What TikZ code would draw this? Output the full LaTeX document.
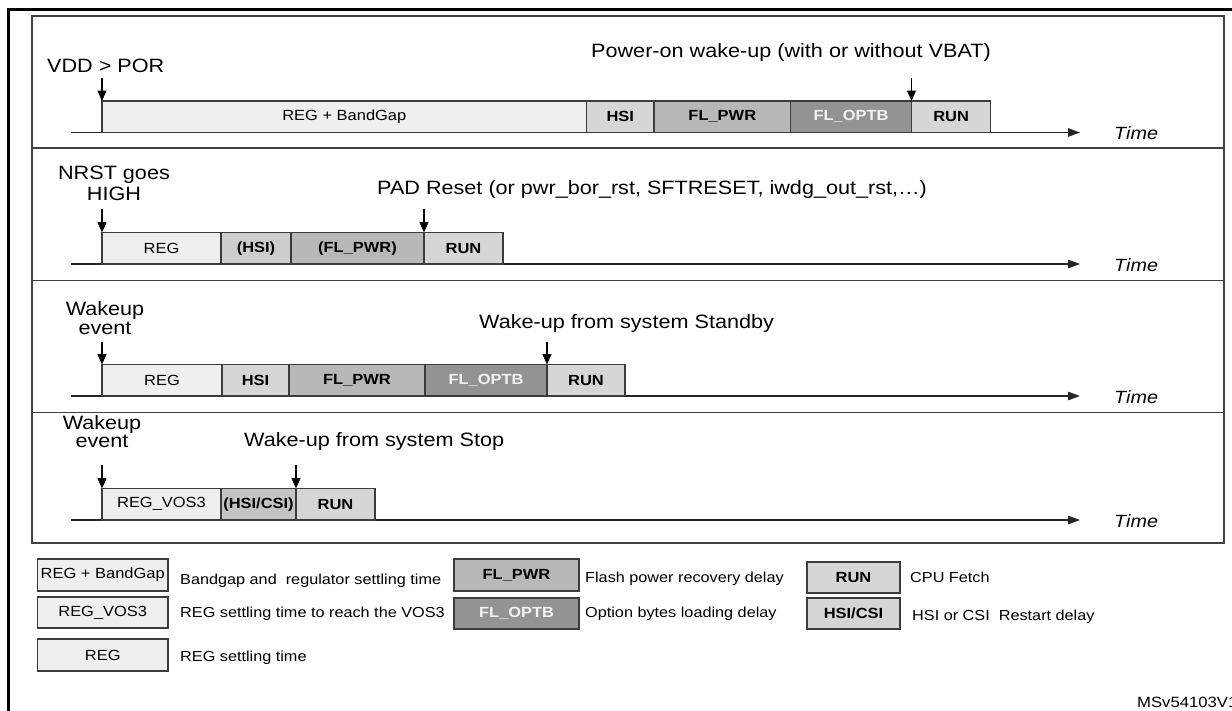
\documentclass[tikz,border=0pt]{standalone}
\usepackage{fontspec}
\setmainfont{Liberation Sans}[FakeStretch=1.12]
\usetikzlibrary{arrows.meta}
\definecolor{regfill}{HTML}{EFEFEF}
\definecolor{hsifill}{HTML}{D6D6D6}
\definecolor{hsiparfill}{HTML}{CDCDCD}
\definecolor{csiparfill}{HTML}{C4C4C4}
\definecolor{pwrfill}{HTML}{B8B8B8}
\definecolor{optbfill}{HTML}{939393}
\definecolor{runfill}{HTML}{D6D6D6}
\definecolor{boxline}{HTML}{3C3C3C}
\definecolor{frameline}{HTML}{404040}
\definecolor{optbtext}{HTML}{F2F2F2}
\newcommand\fBig{\fontsize{19.3}{19}\selectfont}
\newcommand\fBox{\fontsize{14.7}{15}\selectfont}
\newcommand\fDesc{\fontsize{14.5}{15}\selectfont}
\newcommand\fTime{\fontsize{17.7}{18}\selectfont\itshape}
\newcommand\fId{\fontsize{14.9}{15}\selectfont}
\begin{document}
\begin{tikzpicture}[x=1pt,y=-1pt,
  box/.style={draw=boxline, line width=1.1pt, inner sep=0pt, outer sep=0pt, minimum height=31.5pt, font=\fBox, text=black},
  bbox/.style={box, font=\fBox\bfseries},
  lbl/.style={anchor=base west, inner sep=0pt, font=\fBig},
  lblc/.style={anchor=base, inner sep=0pt, font=\fBig},
  desc/.style={anchor=base west, inner sep=0pt, font=\fDesc},
  timel/.style={anchor=base west, inner sep=0pt, font=\fTime},
  darr/.style={draw=black, line width=1.1pt, -{Triangle[length=10.5pt,width=9pt]}},
  tline/.style={draw=black!85, line width=1.2pt, -{Triangle[length=12pt,width=8.5pt]}}
]
\useasboundingbox (0,0) rectangle (1232,710);
\fill[white] (0,0) rectangle (1232,710);
% outer frame
\draw[line width=3pt, black] (8,720) -- (8,9) -- (1240,9);
% inner frame and dividers
\draw[frameline, line width=1.3pt] (32,16) rectangle (1224,543);
\draw[frameline, line width=1.3pt] (32,148) -- (1224,148);
\draw[frameline, line width=1.3pt] (32,280.5) -- (1224,280.5);
\draw[frameline, line width=1.3pt] (32,412.5) -- (1224,412.5);

% ---------- Panel 1 ----------
\coordinate (t1s) at (71,132.5);
\coordinate (t1e) at (1080,132.5);
\draw[tline] (t1s) -- (t1e);
\node[box, fill=regfill, minimum width=484.6pt] (b1reg) at (344.3,116.75) {REG + BandGap};
\node[bbox, fill=hsifill, minimum width=67.4pt] (b1hsi) at (620.3,116.75) {HSI};
\node[bbox, fill=pwrfill, minimum width=136.6pt] (b1pwr) at (722.3,116.75) {FL\_PWR};
\node[bbox, fill=optbfill, text=optbtext, minimum width=120.9pt] (b1optb) at (851.05,116.75) {FL\_OPTB};
\node[bbox, fill=runfill, minimum width=79.2pt] (b1run) at (951.1,116.75) {RUN};
\node[lbl] (e1a) at (47,72) {VDD > POR};
\node[lbl] (e1b) at (591,57) {Power-on wake-up (with or without VBAT)};
\coordinate (a1s) at (102,78);
\coordinate (a1t) at (911.5,78);
\draw[darr] (a1s) -- (b1reg.north west);
\draw[darr] (a1t) -- (b1run.north west);
\node[timel] (tm1) at (1114,139.5) {Time};

% ---------- Panel 2 ----------
\coordinate (t2s) at (71,264);
\coordinate (t2e) at (1080,264);
\draw[tline] (t2s) -- (t2e);
\node[box, fill=regfill, minimum width=119pt] (b2reg) at (161.5,248.25) {REG};
\node[bbox, fill=hsiparfill, minimum width=70pt] (b2hsi) at (256,248.25) {(HSI)};
\node[bbox, fill=pwrfill, minimum width=133pt] (b2pwr) at (357.5,248.25) {(FL\_PWR)};
\node[bbox, fill=runfill, minimum width=79pt] (b2run) at (463.5,248.25) {RUN};
\node[lblc] (e2a) at (114,179) {NRST goes};
\node[lblc] (e2b) at (114,200) {HIGH};
\node[lbl] (e2c) at (377,194) {PAD Reset (or pwr\_bor\_rst, SFTRESET, iwdg\_out\_rst,…)};
\coordinate (a2s) at (102,208.5);
\coordinate (a2t) at (424,208.5);
\draw[darr] (a2s) -- (b2reg.north west);
\draw[darr] (a2t) -- (b2run.north west);
\node[timel] (tm2) at (1114,271) {Time};

% ---------- Panel 3 ----------
\coordinate (t3s) at (71,396);
\coordinate (t3e) at (1080,396);
\draw[tline] (t3s) -- (t3e);
\node[box, fill=regfill, minimum width=120pt] (b3reg) at (162,380.25) {REG};
\node[bbox, fill=hsifill, minimum width=67pt] (b3hsi) at (255.5,380.25) {HSI};
\node[bbox, fill=pwrfill, minimum width=136pt] (b3pwr) at (357,380.25) {FL\_PWR};
\node[bbox, fill=optbfill, text=optbtext, minimum width=122pt] (b3optb) at (486,380.25) {FL\_OPTB};
\node[bbox, fill=runfill, minimum width=78pt] (b3run) at (586,380.25) {RUN};
\node[lblc] (e3a) at (105,315.5) {Wakeup};
\node[lblc] (e3b) at (105,334) {event};
\node[lbl] (e3c) at (479,328) {Wake-up from system Standby};
\coordinate (a3s) at (102,341.5);
\coordinate (a3t) at (547,341.5);
\draw[darr] (a3s) -- (b3reg.north west);
\draw[darr] (a3t) -- (b3run.north west);
\node[timel] (tm3) at (1114,403) {Time};

% ---------- Panel 4 ----------
\coordinate (t4s) at (71,520);
\coordinate (t4e) at (1080,520);
\draw[tline] (t4s) -- (t4e);
\node[box, fill=regfill, minimum width=119pt] (b4reg) at (161.5,504.25) {REG\_VOS3};
\node[bbox, fill=csiparfill, minimum width=75pt] (b4hsi) at (258.5,504.25) {(HSI/CSI)};
\node[bbox, fill=runfill, minimum width=79pt] (b4run) at (335.5,504.25) {RUN};
\node[lblc] (e4a) at (102,429) {Wakeup};
\node[lblc] (e4b) at (102,447.5) {event};
\node[lbl] (e4c) at (244,446) {Wake-up from system Stop};
\coordinate (a4s) at (102,465);
\coordinate (a4t) at (296,465);
\draw[darr] (a4s) -- (b4reg.north west);
\draw[darr] (a4t) -- (b4run.north west);
\node[timel] (tm4) at (1114,527) {Time};

% ---------- Legend ----------
\node[box, fill=regfill, minimum width=130.5pt, minimum height=32pt] (l1) at (102.75,575) {REG + BandGap};
\node[box, fill=regfill, minimum width=130.5pt, minimum height=31pt] (l2) at (102.75,612.5) {REG\_VOS3};
\node[box, fill=regfill, minimum width=130.5pt, minimum height=32pt] (l3) at (102.75,655) {REG};
\node[bbox, fill=pwrfill, minimum width=125pt, minimum height=32pt] (l4) at (516.5,575) {FL\_PWR};
\node[bbox, fill=optbfill, text=optbtext, minimum width=125pt, minimum height=31pt] (l5) at (516.5,613.5) {FL\_OPTB};
\node[bbox, fill=runfill, minimum width=93pt, minimum height=31pt] (l6) at (853.5,577.5) {RUN};
\node[bbox, fill=runfill, minimum width=93pt, minimum height=31pt] (l7) at (853.5,613.5) {HSI/CSI};
\node[desc] (d1) at (180,584) {Bandgap and\ \ regulator settling time};
\node[desc] (d2) at (180,617) {REG settling time to reach the VOS3};
\node[desc] (d3) at (180,661.5) {REG settling time};
\node[desc] (d4) at (585,582.5) {Flash power recovery delay};
\node[desc] (d5) at (585,617) {Option bytes loading delay};
\node[desc] (d6) at (910,582.5) {CPU Fetch};
\node[desc] (d7) at (912,620) {HSI or CSI\ \ Restart delay};
\node[anchor=base west, inner sep=0pt, font=\fId] (fid) at (1137,707.3) {MSv54103V1};
\end{tikzpicture}
\end{document}
